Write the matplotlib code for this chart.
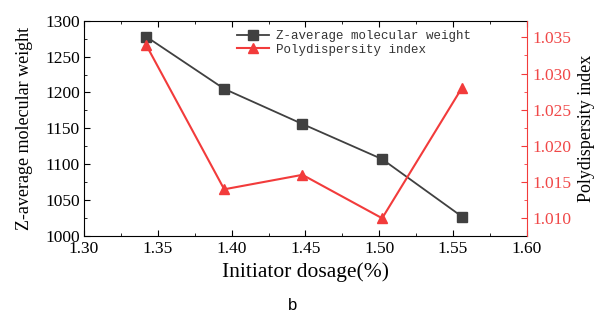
import matplotlib
matplotlib.use("Agg")
import matplotlib.pyplot as plt
from matplotlib.ticker import MultipleLocator, FormatStrFormatter

# Initiator dosage (%) and measured properties
dosage = [1.342, 1.395, 1.448, 1.502, 1.556]
mz = [1278, 1205, 1156, 1107, 1027]
pdi = [1.034, 1.014, 1.016, 1.010, 1.028]

x_ticks = [1.30, 1.35, 1.40, 1.45, 1.50, 1.55, 1.60]
left_ticks = [1000, 1050, 1100, 1150, 1200, 1250, 1300]
right_ticks = [1.010, 1.015, 1.020, 1.025, 1.030, 1.035]

serif = "Liberation Serif"
dark = "#404040"
red = "#f23b3b"
red_text = "#f04848"

fig = plt.figure(figsize=(6.0, 3.29), dpi=100)
ax = fig.add_axes([0.14, 0.283, 0.738, 0.654])
ax2 = ax.twinx()

l1, = ax.plot(dosage, mz, color=dark, marker="s", markersize=6.5, lw=1.3,
              label="Z-average molecular weight")
l2, = ax2.plot(dosage, pdi, color=red, marker="^", markersize=7, lw=1.5,
               label="Polydispersity index")

ax.set_xlim(1.30, 1.60)
ax.set_ylim(1000, 1300)
ax2.set_ylim(1.00756, 1.0373)
ax.set_xticks(x_ticks)
ax.set_yticks(left_ticks)
ax2.set_yticks(right_ticks)
ax.xaxis.set_major_formatter(FormatStrFormatter("%.2f"))
ax2.yaxis.set_major_formatter(FormatStrFormatter("%.3f"))
ax.xaxis.set_minor_locator(MultipleLocator(0.025))
ax.yaxis.set_minor_locator(MultipleLocator(25))
ax2.yaxis.set_minor_locator(MultipleLocator(0.0025))

ax.tick_params(axis="both", which="both", direction="in", top=True,
               labelsize=12.5)
ax.tick_params(axis="x", pad=3.5)
ax.tick_params(axis="y", pad=3)
ax.tick_params(which="major", length=4)
ax.tick_params(which="minor", length=2.5)
ax2.tick_params(axis="y", which="both", direction="in", colors=red,
                labelcolor=red_text, labelsize=12.5, pad=4)
ax2.tick_params(which="major", length=4)
ax2.tick_params(which="minor", length=2.5)
for lab in ax.get_xticklabels() + ax.get_yticklabels() + ax2.get_yticklabels():
    lab.set_fontfamily(serif)

for s in ax.spines.values():
    s.set_color("black")
ax2.spines["right"].set_color(red)
ax2.spines["left"].set_visible(False)
ax2.spines["top"].set_visible(False)
ax2.spines["bottom"].set_visible(False)
ax.spines["right"].set_visible(False)

ax.set_xlabel("Initiator dosage(%)", fontfamily=serif, fontsize=15.5, labelpad=4)
ax.set_ylabel("Z-average molecular weight", fontfamily=serif, fontsize=13,
              labelpad=9)
ax2.set_ylabel("Polydispersity index", fontfamily=serif, fontsize=13,
               labelpad=5)

leg = ax.legend(handles=[l1, l2], loc="upper left", bbox_to_anchor=(0.345, 0.955),
                frameon=False, prop={"family": "Liberation Mono", "size": 9},
                handlelength=2.6, labelspacing=0.1, borderaxespad=0.0,
                borderpad=0.0, handletextpad=0.55)
for t in leg.get_texts():
    t.set_color("#333333")

fig.text(0.487, 0.049, "b", fontfamily="Liberation Sans", fontsize=12,
         ha="center", va="bottom")

fig.savefig("out.png", dpi=100, facecolor="white")
